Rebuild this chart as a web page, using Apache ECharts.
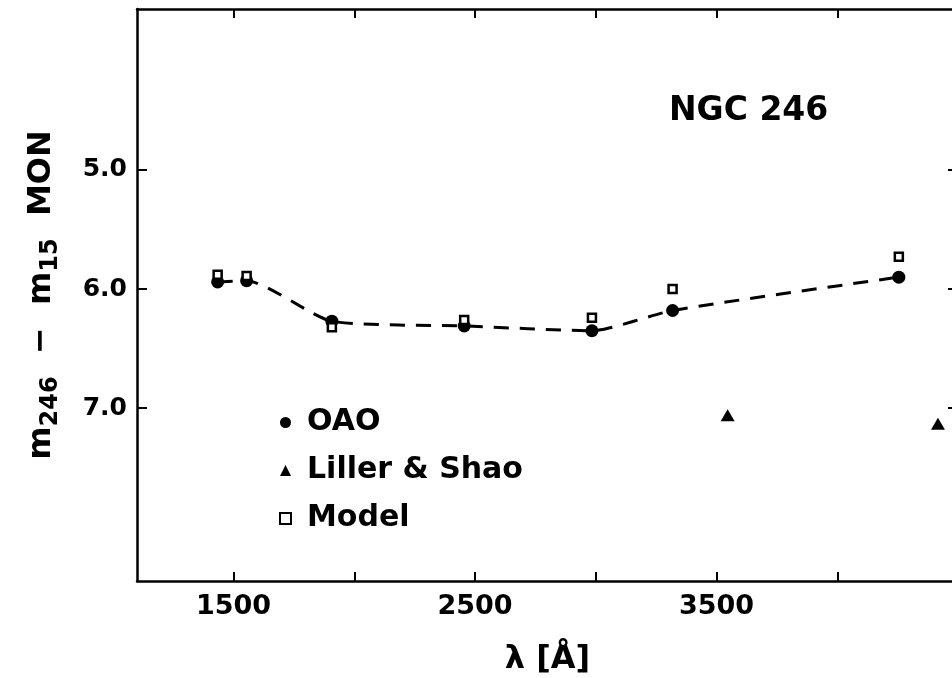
<!DOCTYPE html>
<html>
<head>
<meta charset="utf-8">
<title>NGC 246</title>
<script src="https://cdn.jsdelivr.net/npm/echarts@6/dist/echarts.min.js"></script>
<style>
  html, body { margin: 0; padding: 0; background: #fff; }
  #chart { width: 952px; height: 678px; }
</style>
</head>
<body>
<div id="chart"></div>
<script>
// wavelengths (Å) and magnitude differences
const oaoLambda = [1434, 1554, 1907, 2455, 2984, 3318, 4255]
const oaoMag = [5.94, 5.93, 6.27, 6.31, 6.35, 6.18, 5.90]
const modelLambda = [1434, 1554, 1907, 2455, 2984, 3318, 4255]
const modelMag = [5.88, 5.89, 6.32, 6.26, 6.24, 6.00, 5.73]
const lillerLambda = [3546, 4417]
const lillerMag = [7.06, 7.13]

const xTicks = [1500, 2000, 2500, 3000, 3500, 4000]
const xLabels = [1500, 2500, 3500]
const yTicks = [5, 6, 7]

const font = 'DejaVu Sans'
const pairs = (xs, ys) => xs.map((x, i) => [x, ys[i]])

const chart = echarts.init(document.getElementById('chart'))

const frameLine = { lineStyle: { color: '#000', width: 2.5 } }
const innerTick = len => ({ inside: true, length: len, lineStyle: { color: '#000', width: 2 } })

chart.setOption({
  backgroundColor: '#fff',
  animation: false,
  title: {
    text: 'NGC 246',
    left: 664,
    top: 90,
    textStyle: { fontFamily: font, fontSize: 33, fontWeight: 'bold', color: '#000' }
  },
  legend: {
    data: ['OAO', 'Liller & Shao', 'Model'],
    orient: 'vertical',
    left: 274,
    top: 400,
    itemWidth: 11,
    itemHeight: 11,
    itemGap: 13,
    textStyle: {
      fontFamily: font, fontSize: 30, fontWeight: 'bold', color: '#000',
      lineHeight: 35, padding: [0, 0, 0, 11]
    }
  },
  // the frame runs past the right edge of the picture, as in the scan
  grid: { left: 137, top: 9, width: 821, height: 572, outerBoundsMode: 'none' },
  xAxis: [
    {
      type: 'value',
      position: 'bottom',
      min: 1100,
      max: 4500,
      axisLine: frameLine,
      axisTick: Object.assign(innerTick(9), { customValues: xTicks }),
      axisLabel: {
        customValues: xLabels,
        formatter: v => String(v),
        margin: 12,
        fontFamily: font, fontSize: 27, fontWeight: 'bold', color: '#000'
      },
      splitLine: { show: false },
      name: 'λ [Å]',
      nameLocation: 'middle',
      nameGap: 63,
      nameTextStyle: { fontFamily: font, fontSize: 32, fontWeight: 'bold', color: '#000' }
    },
    {
      type: 'value',
      position: 'top',
      min: 1100,
      max: 4500,
      axisLine: frameLine,
      axisTick: Object.assign(innerTick(9), { customValues: xTicks }),
      axisLabel: { show: false },
      splitLine: { show: false }
    }
  ],
  yAxis: [
    {
      type: 'value',
      position: 'left',
      inverse: true,
      min: 3.65,
      max: 8.45,
      axisLine: frameLine,
      axisTick: Object.assign(innerTick(10), { customValues: yTicks }),
      axisLabel: {
        customValues: yTicks,
        formatter: v => v.toFixed(1),
        margin: 10,
        fontFamily: font, fontSize: 25, fontWeight: 'bold', color: '#000'
      },
      splitLine: { show: false },
      name: '{b|m}{s|246}{b|  \u2212  m}{s|15}{b|  MON}',
      nameLocation: 'middle',
      nameRotate: 90,
      nameGap: 74,
      nameTextStyle: {
        rich: {
          b: { fontFamily: font, fontSize: 32, fontWeight: 'bold', color: '#000', lineHeight: 42 },
          s: { fontFamily: font, fontSize: 24, fontWeight: 'bold', color: '#000', lineHeight: 20, verticalAlign: 'bottom' }
        }
      }
    },
    {
      type: 'value',
      position: 'right',
      inverse: true,
      min: 3.65,
      max: 8.45,
      axisLine: frameLine,
      axisTick: Object.assign(innerTick(10), { customValues: yTicks }),
      axisLabel: { show: false },
      splitLine: { show: false }
    }
  ],
  series: [
    {
      name: 'fit',
      type: 'line',
      data: pairs(oaoLambda, oaoMag),
      symbol: 'none',
      smooth: 0.2,
      silent: true,
      lineStyle: { color: '#000', width: 3, type: [15, 11] },
      z: 1
    },
    {
      name: 'OAO',
      type: 'scatter',
      data: pairs(oaoLambda, oaoMag),
      symbol: 'circle',
      symbolSize: 13,
      itemStyle: { color: '#000', opacity: 1 },
      z: 2
    },
    {
      name: 'Liller & Shao',
      type: 'scatter',
      data: pairs(lillerLambda, lillerMag),
      symbol: 'triangle',
      symbolSize: [14, 12],
      itemStyle: { color: '#000', opacity: 1 },
      z: 2
    },
    {
      name: 'Model',
      type: 'scatter',
      data: pairs(modelLambda, modelMag),
      symbol: 'rect',
      symbolSize: 8,
      itemStyle: { color: '#fff', borderColor: '#000', borderWidth: 2.5, opacity: 1 },
      z: 3
    }
  ]
})
</script>
</body>
</html>
